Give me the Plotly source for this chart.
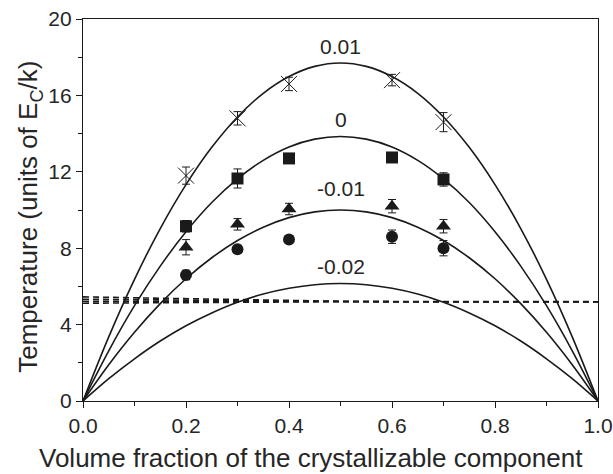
import plotly.graph_objects as go

# Theory curves
curve_x = [0, 0.05, 0.1, 0.15, 0.2, 0.25, 0.3, 0.35, 0.4, 0.45, 0.5,
           0.55, 0.6, 0.65, 0.7, 0.75, 0.8, 0.85, 0.9, 0.95, 1.0]
curve_p01 = [0, 3.36, 6.37, 9.03, 11.33, 13.28, 14.87, 16.11, 16.99, 17.52, 17.7,
             17.52, 16.99, 16.11, 14.87, 13.28, 11.33, 9.03, 6.37, 3.36, 0]
curve_0 = [0, 2.63, 4.99, 7.06, 8.86, 10.39, 11.63, 12.60, 13.30, 13.71, 13.85,
           13.71, 13.30, 12.60, 11.63, 10.39, 8.86, 7.06, 4.99, 2.63, 0]
curve_m01 = [0, 1.9, 3.6, 5.1, 6.4, 7.5, 8.4, 9.1, 9.6, 9.9, 10.0,
             9.9, 9.6, 9.1, 8.4, 7.5, 6.4, 5.1, 3.6, 1.9, 0]
curve_m02 = [0, 1.17, 2.21, 3.14, 3.94, 4.61, 5.17, 5.60, 5.90, 6.09, 6.15,
             6.09, 5.90, 5.60, 5.17, 4.61, 3.94, 3.14, 2.21, 1.17, 0]
curve_labels = ["0.01", "0", "-0.01", "-0.02"]
label_y = [18.55, 14.75, 11.15, 7.05]

# Dashed lines
dash_x = [0, 0.1, 0.2, 0.3, 0.4, 0.5, 0.6, 0.7, 0.8, 0.9, 1.0]
dash_a = [5.45, 5.40, 5.34, 5.29, 5.25, 5.22, 5.2, 5.2, 5.2, 5.2, 5.2]
dash_b = [5.33, 5.30, 5.27, 5.24, 5.22, 5.21, 5.2, 5.2, 5.2, 5.2, 5.2]
dash_c = [5.22, 5.22, 5.21, 5.21, 5.2, 5.2, 5.2, 5.2, 5.2, 5.2, 5.2]
dash_d = [5.12, 5.14, 5.16, 5.18, 5.19, 5.2, 5.2, 5.2, 5.2, 5.2, 5.2]

# Simulation data points
pts_x = [0.2, 0.3, 0.4, 0.6, 0.7]
pts_p01 = [11.8, 14.8, 16.6, 16.8, 14.6]
err_p01 = [0.45, 0.35, 0.35, 0.3, 0.5]
pts_0 = [9.15, 11.65, 12.7, 12.75, 11.6]
err_0 = [0.3, 0.5, 0.2, 0.2, 0.35]
pts_m01 = [8.05, 9.25, 10.05, 10.2, 9.15]
err_m01 = [0.4, 0.3, 0.3, 0.35, 0.35]
pts_m02 = [6.6, 7.95, 8.45, 8.6, 8.0]
err_m02 = [0.25, 0.2, 0.2, 0.35, 0.4]

x_title = "Volume fraction of the crystallizable component"
y_title = "Temperature (units of E<sub>C</sub>/k)"

LC = "#1a1a1a"
TC = "#262626"
FONT = "Liberation Sans, Arial, sans-serif"

fig = go.Figure()

for ys in [dash_a, dash_b, dash_c, dash_d]:
    fig.add_trace(go.Scatter(x=dash_x, y=ys, mode="lines",
                             line=dict(color=LC, width=1.6, dash="6px,4px"),
                             showlegend=False, hoverinfo="skip"))

for ys in [curve_p01, curve_0, curve_m01, curve_m02]:
    fig.add_trace(go.Scatter(x=curve_x, y=ys, mode="lines", line_shape="spline",
                             line=dict(color=LC, width=1.6),
                             showlegend=False, hoverinfo="skip"))

marker_specs = [
    (pts_p01, err_p01, dict(symbol="x-thin", size=16, line=dict(color=LC, width=1))),
    (pts_0, err_0, dict(symbol="square", size=12, color=LC)),
    (pts_m01, err_m01, dict(symbol="triangle-up", size=13, color=LC)),
    (pts_m02, err_m02, dict(symbol="circle", size=12, color=LC)),
]
for ys, es, mk in marker_specs:
    fig.add_trace(go.Scatter(x=pts_x, y=ys, mode="markers", marker=mk,
                             error_y=dict(type="data", array=es, visible=True,
                                          color=LC, thickness=1, width=4),
                             showlegend=False))

for lab, ly in zip(curve_labels, label_y):
    fig.add_annotation(x=0.5, y=ly, text=lab, showarrow=False,
                       font=dict(size=21, color=TC, family=FONT))

# Axis titles (centered as in the reference)
fig.add_annotation(x=0.443, y=-0.149, xref="paper", yref="paper", text=x_title,
                   showarrow=False, xanchor="center", yanchor="middle",
                   font=dict(size=26, color=TC, family=FONT))
fig.add_annotation(x=-0.103, y=0.482, xref="paper", yref="paper", text=y_title,
                   showarrow=False, xanchor="center", yanchor="middle", textangle=-90,
                   font=dict(size=26, color=TC, family=FONT))

axis_common = dict(showline=True, linecolor=LC, linewidth=1.2, mirror=True,
                   ticks="outside", ticklen=6, tickwidth=1.2, tickcolor=LC,
                   showgrid=False, zeroline=False, automargin=False,
                   tickfont=dict(size=21, color=TC, family=FONT))

fig.update_xaxes(range=[0, 1.0], tickvals=[0, 0.2, 0.4, 0.6, 0.8, 1.0],
                 ticktext=["0.0", "0.2", "0.4", "0.6", "0.8", "1.0"],
                 minor=dict(tickvals=[0.1, 0.3, 0.5, 0.7, 0.9], ticks="outside",
                            ticklen=4, tickcolor=LC, tickwidth=1.2),
                 **axis_common)
fig.update_yaxes(range=[0, 20], tickvals=[0, 4, 8, 12, 16, 20],
                 minor=dict(tickvals=[2, 6, 10, 14, 18], ticks="outside",
                            ticklen=4, tickcolor=LC, tickwidth=1.2),
                 **axis_common)

fig.update_layout(width=613, height=474, plot_bgcolor="white", paper_bgcolor="white",
                  margin=dict(l=83, r=15, t=19, b=73, autoexpand=False), showlegend=False)

fig.write_html("out.html")
